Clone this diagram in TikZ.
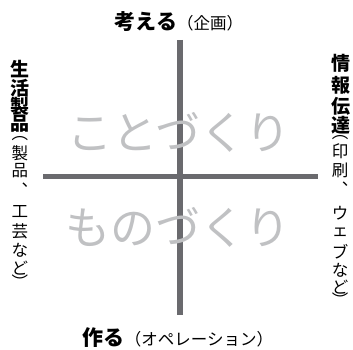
\documentclass[tikz,border=0pt]{standalone}
\usepackage{fontspec}
\setmainfont{Noto Sans CJK JP}
\usetikzlibrary{positioning}
\definecolor{axisgray}{RGB}{106,106,110}
\definecolor{kanagray}{RGB}{192,193,195}
\tikzset{
  axis/.style={line width=5.5pt, color=axisgray},
  big/.style={text=kanagray, font=\fontsize{45}{45}\selectfont, inner sep=0pt},
  head/.style={inner sep=0pt, font=\fontsize{21}{21}\selectfont\bfseries},
  tatebold/.style={inner sep=0pt, font=\fontsize{19}{19}\selectfont\bfseries},
  tatesmall/.style={inner sep=0pt, font=\fontsize{16.5}{16.5}\selectfont}
}
\newcommand{\sub}[1]{{\fontsize{16.5}{16.5}\selectfont\mdseries #1}}
\begin{document}
\begin{tikzpicture}[x=1pt,y=-1pt]
  \useasboundingbox (0,0) rectangle (353,350);
  % axes
  \coordinate (top) at (180,40);
  \coordinate (bottom) at (180,315);
  \coordinate (left) at (43,176.5);
  \coordinate (right) at (318,176.5);
  \draw[axis] (left) -- (right);
  \draw[axis] (top) -- (bottom);

  % quadrant words
  \node[big] (koto) at (179,132) {ことづくり};
  \node[big] (mono) at (178,227) {ものづくり};

  % axis labels
  \node[head] (think) at (179,22) {考える\sub{（企画）}};
  \node[head] (make) at (178,338) {作る\sub{（オペレーション）}};

  % vertical labels, one glyph per node
  \foreach \c/\y [count=\i] in {生/69,活/88,製/106.5,品/123.5}
    \node[tatebold] (life\i) at (20,\y) {\c};
  \foreach \c/\y [count=\i] in {︵/138.5,製/153.5,品/171,︑/190,工/211.5,芸/231,な/250,ど/268.5,︶/281.5}
    \node[tatesmall] (lifesub\i) at (20,\y) {\c};

  \foreach \c/\y [count=\i] in {情/63.5,報/85,伝/106.5,達/125.5}
    \node[tatebold] (info\i) at (341,\y) {\c};
  \foreach \c/\y [count=\i] in {︵/138,印/151,刷/170.5,︑/189,ウ/213.5,ェ/232,ブ/251.5,な/270.5,ど/287.5,︶/299.5}
    \node[tatesmall] (infosub\i) at (340,\y) {\c};
\end{tikzpicture}
\end{document}
